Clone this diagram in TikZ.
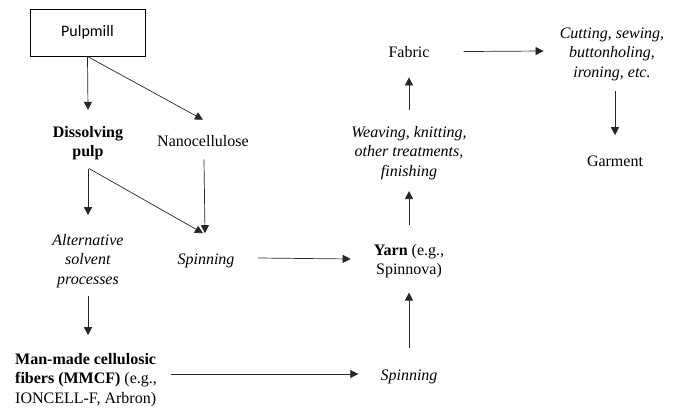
\documentclass[tikz,border=0pt]{standalone}
\usepackage{fontspec}
\setmainfont{Liberation Serif}
\newfontfamily\boxfont{Carlito}
\usetikzlibrary{arrows.meta,calc}
\newcommand{\mlines}[2][c]{\begin{tabular}[t]{@{}#1@{}}#2\end{tabular}}
\begin{document}
\begin{tikzpicture}[x=1pt,y=-1pt,
  lbl/.style={inner sep=0pt, anchor=base, font=\fontsize{16}{19.5}\selectfont},
  pmbox/.style={draw, line width=0.9pt, inner sep=0pt, minimum width=115pt, minimum height=47pt, font=\boxfont\fontsize{16}{19.5}\selectfont},
  arr/.style={draw=black!85, line width=0.7pt, -{Triangle[length=8pt,width=8pt]}}]
\useasboundingbox (0,0) rectangle (673,408);

\node[pmbox] (pm) at (87.5,32.5) {Pulpmill};
\node[lbl] (dp) at (88,137) {\mlines{\textbf{Dissolving}\\\textbf{pulp}}};
\node[lbl] (nc) at (203,146) {Nanocellulose};
\node[lbl] (alt) at (88,245) {\mlines{\textit{Alternative}\\\textit{solvent}\\\textit{processes}}};
\node[lbl] (sp1) at (206,264) {\textit{Spinning}};
\node[lbl, anchor=base west] (mm) at (15,364) {\mlines[l]{\textbf{Man-made cellulosic}\\\textbf{fibers (MMCF)} (e.g.,\\IONCELL-F, Arbron)}};
\node[lbl] (sp2) at (409,380) {\textit{Spinning}};
\node[lbl] (yarn) at (409,255) {\mlines{\textbf{Yarn} (e.g.,\\Spinnova)}};
\node[lbl] (weave) at (409,137) {\mlines{\textit{Weaving, knitting,}\\\textit{other treatments,}\\\textit{finishing}}};
\node[lbl] (fab) at (409,57) {Fabric};
\node[lbl] (cut) at (612,38) {\mlines{\textit{Cutting, sewing,}\\\textit{buttonholing,}\\\textit{ironing, etc.}}};
\node[lbl] (gar) at (615,166) {Garment};

\draw[arr] (pm.south) -- ($(dp.north)+(0,-13.3)$);
\draw[arr] (pm.south) -- ($(nc.north)+(0,-15)$);
\draw[arr] ($(nc.south)+(1,13)$) -- ($(sp1.north)+(-1,-20)$);
\draw[arr] ($(dp.south)+(0,6)$) -- ($(alt.north)+(0,-16)$);
\draw[arr] ($(dp.south)+(1,6)$) -- ($(sp1.north)+(-3,-20)$);
\draw[arr] ($(alt.south)+(0,6)$) -- ($(alt.south |- mm.north)+(0,-15)$);
\draw[arr] ($(mm.base east)+(14,10)$) -- ($(sp2.base west)+(-22,-6)$);
\draw[arr] ($(sp1.base east)+(23.5,-6)$) -- ($(yarn.base west)+(-23,4)$);
\draw[arr] ($(sp2.north)+(0,-21)$) -- ($(yarn.south)+(0,12)$);
\draw[arr] ($(yarn.north)+(0,-16)$) -- ($(weave.south)+(0,9)$);
\draw[arr] ($(weave.north)+(0,-13)$) -- ($(fab.south)+(0,20)$);
\draw[arr] ($(fab.east)+(34,0)$) -- ($(cut.base west)+(-16,13)$);
\draw[arr] ($(cut.south -| gar.north)+(0,8)$) -- ($(gar.north)+(0,-20)$);
\end{tikzpicture}
\end{document}
